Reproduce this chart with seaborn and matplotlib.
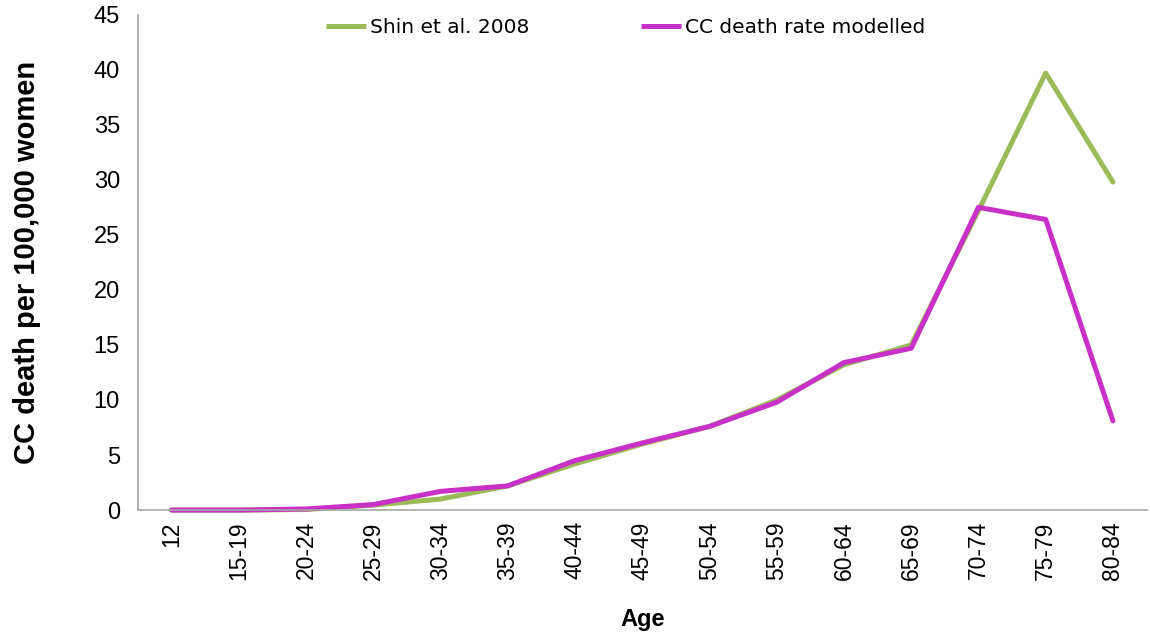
import matplotlib
matplotlib.use("Agg")
import matplotlib.pyplot as plt
import seaborn as sns
import pandas as pd

# faixas etárias e taxas
ages = ["12", "15-19", "20-24", "25-29", "30-34", "35-39", "40-44", "45-49",
        "50-54", "55-59", "60-64", "65-69", "70-74", "75-79", "80-84"]
shin_2008 = [0.0, 0.0, 0.05, 0.45, 1.0, 2.2, 4.2, 6.0, 7.6, 10.0, 13.2, 15.0, 27.2, 39.7, 29.8]
modelled = [0.0, 0.0, 0.1, 0.5, 1.7, 2.2, 4.5, 6.1, 7.6, 9.8, 13.4, 14.7, 27.5, 26.4, 8.1]
yticks = [0, 5, 10, 15, 20, 25, 30, 35, 40, 45]

series_names = ["Shin et al. 2008", "CC death rate modelled"]
colors = {"Shin et al. 2008": "#9BBB59", "CC death rate modelled": "#C930C8"}

df = pd.DataFrame({
    "Age": ages * 2,
    "rate": shin_2008 + modelled,
    "serie": [series_names[0]] * len(ages) + [series_names[1]] * len(ages),
})

sns.set_style("white")
plt.rcParams["font.family"] = ["Liberation Sans", "DejaVu Sans"]
plt.rcParams["text.color"] = "black"
plt.rcParams["xtick.color"] = "black"
plt.rcParams["ytick.color"] = "black"
plt.rcParams["axes.labelcolor"] = "black"

fig = plt.figure(figsize=(11.5, 6.4), dpi=100)
ax = fig.add_axes([0.12, 0.203, 0.877, 0.774])

sns.lineplot(data=df, x="Age", y="rate", hue="serie", palette=colors,
             hue_order=series_names, linewidth=3.6, sort=False, ax=ax)
for line in ax.lines:
    line.set_clip_on(False)

ax.set_xlim(-0.5, len(ages) - 0.5)
ax.set_ylim(0, 45)
ax.set_yticks(yticks)
# marcas entre as categorias, rótulos no centro (estilo Excel)
ax.set_xticks([i - 0.5 for i in range(len(ages) + 1)], minor=False)
ax.set_xticklabels([])
ax.set_xticks(range(len(ages)), minor=True)
ax.set_xticklabels(ages, minor=True, rotation=90, fontsize=16.5)
ax.tick_params(axis="x", which="minor", length=0, pad=8)
ax.tick_params(axis="x", which="major", length=7, color="#A6A6A6", direction="out")
ax.tick_params(axis="y", length=6, color="#A6A6A6", labelsize=17, pad=7, direction="out")

for side in ["top", "right"]:
    ax.spines[side].set_visible(False)
for side in ["left", "bottom"]:
    ax.spines[side].set_color("#A6A6A6")
    ax.spines[side].set_linewidth(1.2)

ax.set_xlabel("Age", fontsize=17, fontweight="bold", labelpad=20)
ax.set_ylabel("CC death per 100,000 women", fontsize=21, fontweight="bold", labelpad=38)

leg = ax.legend(loc="upper center", bbox_to_anchor=(0.544, 1.0), bbox_transform=fig.transFigure,
                ncol=2, frameon=False, handlelength=2.0, handletextpad=0.2,
                columnspacing=5.5, prop={"family": "DejaVu Sans", "size": 14.5})
for h in leg.get_lines():
    h.set_linewidth(3.6)
    h.set_solid_capstyle("butt")

fig.savefig("out.png", dpi=100)
plt.close(fig)
